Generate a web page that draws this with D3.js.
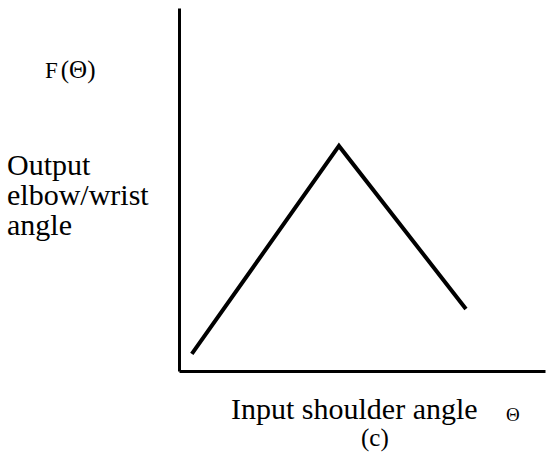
<!DOCTYPE html>
<html lang="en">
  <head>
    <title>Shoulder to elbow/wrist mapping</title>
    <script src="https://d3js.org/d3.v7.min.js"></script>
    <style>
      body {
        margin: 0;
        background: #fff;
      }

      text {
        font-family: "Liberation Serif", "DejaVu Serif", serif;
        fill: #000;
      }
    </style>
  </head>
  <body>
    <script>
      // input shoulder angle (arbitrary units) and output elbow/wrist angle
      const thetaValues = [3.5, 43.7, 78.4];
      const outputValues = [4.7, 62.0, 17.1];

      const w = 548;
      const h = 465;

      const xScale = d3.scaleLinear()
                       .domain([0, 100])
                       .range([179, 545]);

      const yScale = d3.scaleLinear()
                       .domain([0, 100])
                       .range([371, 8]);

      const svg = d3.select('body')
                    .append('svg')
                    .attr('width', w)
                    .attr('height', h);

      // axes drawn as plain lines, no ticks
      const xAxis = d3.axisBottom(xScale).tickValues([]).tickSizeOuter(0);
      const yAxis = d3.axisLeft(yScale).tickValues([]).tickSizeOuter(0);

      svg.append('g')
         .attr('transform', `translate(0, ${yScale(0)})`)
         .call(xAxis)
         .select('.domain')
          .attr('stroke', '#000')
          .attr('stroke-width', 3);

      svg.append('g')
         .attr('transform', `translate(${xScale(0)}, 0)`)
         .call(yAxis)
         .select('.domain')
          .attr('stroke', '#000')
          .attr('stroke-width', 3);

      const points = thetaValues.map((t, i) => [t, outputValues[i]]);

      const line = d3.line()
                     .x(d => xScale(d[0]))
                     .y(d => yScale(d[1]));

      svg.append('path')
         .datum(points)
         .attr('d', line)
         .attr('fill', 'none')
         .attr('stroke', '#000')
         .attr('stroke-width', 4)
         .attr('stroke-linejoin', 'miter');

      // y label
      const fLabel = svg.append('text')
                        .attr('x', 45)
                        .attr('y', 78);
      fLabel.append('tspan').attr('font-size', 23).text('F');
      fLabel.append('tspan').attr('font-size', 25).attr('dx', 3).text('(Θ)');

      const yLines = ['Output', 'elbow/wrist', 'angle'];
      svg.append('g')
         .selectAll('text')
         .data(yLines)
         .enter()
         .append('text')
          .attr('x', 7)
          .attr('y', (d, i) => 175 + i * 30)
          .attr('font-size', 30)
          .text(d => d);

      // x label
      svg.append('text')
         .attr('x', 231)
         .attr('y', 419)
         .attr('font-size', 30)
         .text('Input shoulder angle');

      svg.append('text')
         .attr('x', 506)
         .attr('y', 421)
         .attr('font-size', 19)
         .text('Θ');

      svg.append('text')
         .attr('x', 361)
         .attr('y', 446)
         .attr('font-size', 25)
         .text('(c)');
    </script>
  </body>
</html>
